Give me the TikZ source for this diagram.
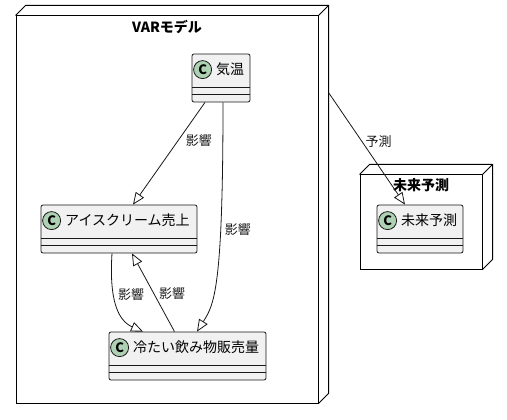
\documentclass[tikz,border=0pt]{standalone}
\usepackage{fontspec}
\setmainfont{Noto Sans CJK JP}
\usetikzlibrary{arrows.meta,positioning}

\definecolor{clsfill}{HTML}{F1F1F1}
\definecolor{clsdraw}{HTML}{181818}
\definecolor{spotfill}{HTML}{ADD1B2}

% class box: name, centre, width, text
\newcommand{\umlclass}[4]{%
  \node[cls, minimum width=#3] (#1) at (#2) {};
  \node[spot] (#1C) at ([shift={(11,16)}]#1.north west) {C};
  \node[clsname, right=4pt of #1C] (#1T) {#4};
  \draw[clsline] ([yshift=15pt]#1.south west) -- ([yshift=15pt]#1.south east);
  \draw[clsline] ([yshift=8pt]#1.south west) -- ([yshift=8pt]#1.south east);
}
% depth of a node box
\newcommand{\nodedepth}[1]{%
  \draw[nodeline] (#1.north west) -- ++(10,-10) -| ([shift={(10,-10)}]#1.south east) -- (#1.south east);
  \draw[nodeline] (#1.north east) -- ++(10,-10);
}

\begin{document}
\begin{tikzpicture}[x=1pt, y=-1pt,
    cls/.style={draw=clsdraw, fill=clsfill, line width=0.8pt, rounded corners=2pt, minimum height=48pt, inner sep=0pt},
    clsline/.style={draw=clsdraw, line width=0.8pt},
    spot/.style={circle, draw=clsdraw, fill=spotfill, line width=0.8pt, minimum size=18pt, inner sep=0pt, font=\fontsize{13}{13}\selectfont\bfseries},
    clsname/.style={inner sep=0pt, font=\fontsize{14}{16}\selectfont},
    nodebox/.style={draw=black, line width=1pt, fill=white, inner sep=0pt},
    nodeline/.style={draw=black, line width=1pt},
    nodetitle/.style={inner sep=0pt, font=\fontsize{14}{16}\selectfont\bfseries},
    lbl/.style={inner sep=1pt, font=\fontsize{13}{15}\selectfont, text=clsdraw},
    dep/.style={draw=clsdraw, line width=0.8pt, -{Triangle[open, length=12pt, width=10pt]}}]
    \useasboundingbox (0,0) rectangle (507,420);

    % nodes
    \node[nodebox, minimum width=302pt, minimum height=387pt] (var) at (167,209.5) {};
    \nodedepth{var}
    \node[nodetitle] (varT) at ([yshift=-11pt]var.north) {VARモデル};

    \node[nodebox, minimum width=122pt, minimum height=94pt] (mirai) at (421,222) {};
    \nodedepth{mirai}
    \node[nodetitle] (miraiT) at ([yshift=-11pt]mirai.north) {未来予測};

    % classes
    \umlclass{kion}{221,78}{58pt}{気温}
    \umlclass{ice}{119,229}{156pt}{アイスクリーム売上}
    \umlclass{drink}{187.5,356}{157pt}{冷たい飲み物販売量}
    \umlclass{yosoku}{420,229}{86pt}{未来予測}

    % relations
    \draw[dep] ([xshift=-16pt]kion.south) -- ([xshift=14pt]ice.north)
        node[lbl, pos=0.37, right=6pt] {影響};
    \draw[dep] ([xshift=2pt]kion.south) .. controls +(0,188) and +(17,-27) .. ([xshift=9.5pt]drink.north)
        node[lbl, pos=0.3, right=3pt] {影響};
    \draw[dep] ([xshift=-7pt]ice.south) .. controls +(-3,47) and +(-25,-11) .. ([xshift=-44.5pt]drink.north)
        node[lbl, pos=0.36, right=3pt] {影響};
    \draw[dep] ([xshift=-13pt]drink.north) -- ([xshift=13pt]ice.south)
        node[lbl, pos=0.49, right=4pt] {影響};
    \draw[dep] ([shift={(10,77)}]var.north east) -- ([xshift=-15pt]yosoku.north)
        node[lbl, pos=0.44, right=2pt] {予測};
\end{tikzpicture}
\end{document}
